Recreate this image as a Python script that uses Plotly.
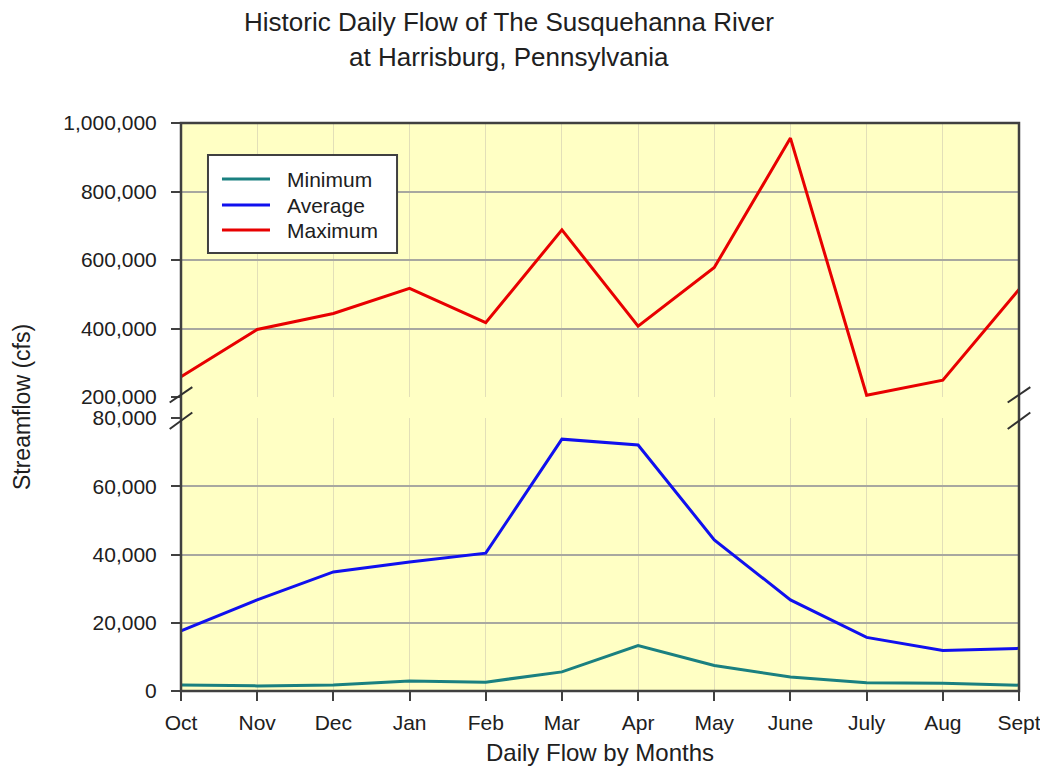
import plotly.graph_objects as go

months = ["Oct", "Nov", "Dec", "Jan", "Feb", "Mar", "Apr", "May", "June", "July", "Aug", "Sept"]
minimum = [1760, 1500, 1760, 2900, 2600, 5600, 13300, 7500, 4100, 2400, 2300, 1700]
average = [17600, 26700, 34900, 37800, 40400, 73800, 72100, 44300, 26700, 15700, 11900, 12500]
maximum = [259000, 397000, 444000, 517000, 417000, 688000, 407000, 578000, 956000, 205000, 249000, 514000]
series_names = ["Minimum", "Average", "Maximum"]

low_ticks = [0, 20000, 40000, 60000, 80000]
high_ticks = [200000, 400000, 600000, 800000, 1000000]

FONT = "Liberation Sans, Arial, sans-serif"
TXT = "#202020"
AX = "#404040"
YELLOW = "#ffffc4"
COLORS = ["#1a8080", "#1010ee", "#e80000"]

fig = go.Figure()
fig.add_trace(go.Scatter(x=months, y=minimum, name=series_names[0], mode="lines",
                         line=dict(color=COLORS[0], width=3), xaxis="x", yaxis="y"))
fig.add_trace(go.Scatter(x=months, y=average, name=series_names[1], mode="lines",
                         line=dict(color=COLORS[1], width=3), xaxis="x", yaxis="y"))
fig.add_trace(go.Scatter(x=months, y=maximum, name=series_names[2], mode="lines",
                         line=dict(color=COLORS[2], width=3), xaxis="x2", yaxis="y2"))

bot_dom = [0, 0.4806]
top_dom = [0.5176, 1]

common_x = dict(type="category", range=[0, 11], showgrid=True, gridcolor="#e2dfb8",
                gridwidth=1, zeroline=False, showline=False, automargin=False)
ytick = dict(showgrid=True, gridcolor="#a8a8a0", gridwidth=1.5, zeroline=False,
             ticks="outside", ticklen=9, tickwidth=2, tickcolor=AX, tickformat=",",
             ticklabelstandoff=10, tickfont=dict(size=21, color=TXT), automargin=False)
fig.update_layout(
    width=1032, height=761,
    margin=dict(l=173, r=21, t=115, b=78),
    paper_bgcolor="white", plot_bgcolor="rgba(0,0,0,0)",
    font=dict(family=FONT, color=TXT, size=20),
    showlegend=False,
    xaxis=dict(**common_x, anchor="y", ticks="outside", ticklen=9, tickwidth=2,
               tickcolor=AX, ticklabelstandoff=4, tickfont=dict(size=21, color=TXT)),
    xaxis2=dict(**common_x, anchor="y2", matches="x", showticklabels=False, ticks=""),
    yaxis=dict(domain=bot_dom, range=[0, 80000], tickvals=low_ticks, anchor="x", **ytick),
    yaxis2=dict(domain=top_dom, range=[200000, 1000000], tickvals=high_ticks, anchor="x2", **ytick),
)

shapes = [
    dict(type="rect", xref="paper", yref="paper", x0=0, x1=1, y0=0, y1=1,
         fillcolor=YELLOW, line=dict(width=0), layer="below"),
    dict(type="rect", xref="paper", yref="paper", x0=0, x1=1, y0=0, y1=1,
         fillcolor="rgba(0,0,0,0)", line=dict(color=AX, width=2.5), layer="above"),
]
# axis break marks
for xd in (0, 1):
    shapes.append(dict(type="line", xref="x domain", yref="y2 domain",
                       x0=xd - 0.0135, x1=xd + 0.0135, y0=-0.02, y1=0.036,
                       line=dict(color="#303030", width=2)))
    shapes.append(dict(type="line", xref="x domain", yref="y domain",
                       x0=xd - 0.0135, x1=xd + 0.0135, y0=0.96, y1=1.02,
                       line=dict(color="#303030", width=2)))

# legend box (drawn manually for exact placement)
shapes.append(dict(type="rect", xref="paper", yref="paper", x0=0.0322, x1=0.2578,
                   y0=0.7711, y1=0.9437, fillcolor="white",
                   line=dict(color=AX, width=2), layer="above"))
for name, col, yy in zip(series_names, COLORS, (0.9014, 0.8556, 0.8116)):
    shapes.append(dict(type="line", xref="paper", yref="paper", x0=0.0489, x1=0.1062,
                       y0=yy, y1=yy, line=dict(color=col, width=3), layer="above"))
    fig.add_annotation(text=name, xref="paper", yref="paper", x=0.1241, y=yy,
                       xanchor="left", yanchor="middle", showarrow=False,
                       font=dict(size=21, color=TXT, family=FONT))
fig.update_layout(shapes=shapes)

title_lines = ["Historic Daily Flow of The Susquehanna River", "at Harrisburg, Pennsylvania"]
for txt, yy in zip(title_lines, (1.1778, 1.1162)):
    fig.add_annotation(text=txt, xref="paper", yref="paper", x=0.3914, y=yy,
                       xanchor="center", yanchor="middle", showarrow=False,
                       font=dict(size=26, color=TXT, family=FONT))

fig.add_annotation(text="Streamflow (cfs)", xref="paper", yref="paper",
                   x=-0.1897, y=0.5, xanchor="center", yanchor="middle",
                   textangle=-90, showarrow=False, font=dict(size=23, color=TXT, family=FONT))
fig.add_annotation(text="Daily Flow by Months", xref="paper", yref="paper",
                   x=0.5, y=-0.1074, xanchor="center", yanchor="middle",
                   showarrow=False, font=dict(size=24, color=TXT, family=FONT))

fig.write_html("out.html")
